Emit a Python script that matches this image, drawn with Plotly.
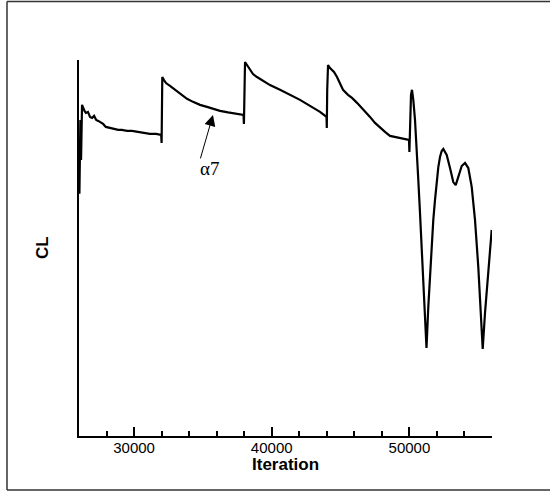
import plotly.graph_objects as go

# Iteration values and CL values
iteration = [
    26000, 26030, 26100, 26150, 26220, 26300, 26400, 26500, 26650, 26800,
    26950, 27100, 27250, 27400, 27550, 27750, 27950, 28250, 28550, 28850,
    29100, 29500, 29850, 30200, 30650, 31150, 31600, 31970, 32000, 32020,
    32050, 32174, 32320, 32610, 32973, 33337, 33845, 34281, 34789, 35298,
    35734, 36242, 36823, 37404, 37950, 37980, 38010, 38060, 38204, 38421,
    38639, 38930, 39366, 39874, 40601, 41327, 42053, 42780, 43506, 43978,
    44000, 44030, 44090, 44233, 44523, 44741, 44959, 45177, 45540, 45831,
    46194, 46557, 46848, 47138, 47502, 47865, 48228, 48591, 48954, 49317,
    49826, 49971, 50000, 50044, 50116, 50189, 50283, 50407, 50530, 50647,
    50770, 50894, 51010, 51133, 51242, 51373, 51497, 51620, 51736, 51860,
    51983, 52100, 52223, 52347, 52463, 52710, 52950, 53189, 53364, 53553,
    53800, 54040, 54279, 54526, 54765, 55005, 55179, 55325, 55492, 55731,
    55978,
]
cl = [
    1.141, 0.966, 1.261, 1.101, 1.321, 1.309, 1.297, 1.289, 1.293, 1.273,
    1.269, 1.277, 1.261, 1.257, 1.253, 1.245, 1.233, 1.229, 1.225, 1.221,
    1.221, 1.217, 1.217, 1.213, 1.209, 1.205, 1.205, 1.201, 1.169, 1.341,
    1.432, 1.420, 1.408, 1.397, 1.381, 1.365, 1.345, 1.333, 1.321, 1.313,
    1.305, 1.297, 1.291, 1.285, 1.281, 1.245, 1.381, 1.492, 1.480, 1.460,
    1.444, 1.432, 1.416, 1.400, 1.381, 1.361, 1.341, 1.317, 1.293, 1.273,
    1.229, 1.381, 1.480, 1.468, 1.452, 1.432, 1.404, 1.381, 1.361, 1.349,
    1.329, 1.309, 1.293, 1.273, 1.249, 1.229, 1.213, 1.197, 1.193, 1.189,
    1.185, 1.181, 1.133, 1.221, 1.361, 1.381, 1.341, 1.261, 1.153, 1.021,
    0.890, 0.730, 0.583, 0.435, 0.351, 0.515, 0.650, 0.770, 0.862, 0.942,
    1.021, 1.073, 1.113, 1.137, 1.145, 1.121, 1.069, 1.013, 1.001, 1.033,
    1.077, 1.089, 1.069, 0.994, 0.862, 0.674, 0.491, 0.347, 0.491, 0.674,
    0.822,
]

x_range = [26000, 56000]
y_range = [0, 1.5]
x_ticks = [30000, 40000, 50000]
x_title = "Iteration"
y_title = "CL"
label_text = "α7"
label_pos = (35443, 1.069)
arrow_head = (35734, 1.281)

fig = go.Figure()
fig.add_trace(go.Scatter(
    x=iteration, y=cl, mode="lines",
    line=dict(color="black", width=2.2),
    hoverinfo="skip", showlegend=False,
))

fig.update_layout(
    width=550, height=491,
    margin=dict(l=79, r=58, t=60, b=55),
    paper_bgcolor="white", plot_bgcolor="white",
    font=dict(family="Liberation Sans, Arial, sans-serif", color="black"),
    showlegend=False,
)
fig.update_xaxes(
    range=x_range, tickvals=x_ticks, ticktext=[str(v) for v in x_ticks],
    showline=True, linecolor="black", linewidth=2,
    ticks="inside", ticklen=9, tickwidth=2, tickcolor="black",
    minor=dict(ticks="inside", ticklen=5, tickwidth=1.5, tickcolor="black", dtick=2000, tick0=0),
    showgrid=False, zeroline=False,
    tickfont=dict(size=15, family="Liberation Sans, Arial, sans-serif"),
    ticklabelstandoff=-3,
)
fig.update_yaxes(
    range=y_range, showline=True, linecolor="black", linewidth=2,
    showticklabels=False, ticks="", showgrid=False, zeroline=False,
)

# axis titles
fig.add_annotation(
    x=0.5, y=(436 - 464) / 376, xref="paper", yref="paper",
    text="<b>" + x_title + "</b>", showarrow=False,
    font=dict(size=17, family="Liberation Sans, Arial, sans-serif"),
    xanchor="center", yanchor="middle",
)
fig.add_annotation(
    x=(42 - 79) / 413, y=0.5, xref="paper", yref="paper",
    text="<b>" + y_title + "</b>", showarrow=False, textangle=-90,
    font=dict(size=17, family="Liberation Sans, Arial, sans-serif"),
    xanchor="center", yanchor="middle",
)

# label with arrow
fig.add_annotation(
    x=arrow_head[0], y=arrow_head[1], xref="x", yref="y",
    text="", showarrow=True, arrowhead=2, arrowsize=2.2, arrowwidth=1,
    arrowcolor="black", ax=-13, ay=45, standoff=0, startstandoff=0,
)
fig.add_annotation(
    x=label_pos[0], y=label_pos[1], xref="x", yref="y",
    text=label_text, showarrow=False,
    font=dict(size=19, family="Liberation Serif, Times New Roman, serif"),
    xanchor="center", yanchor="middle",
)

# outer frame: left, top and bottom edges (the right edge lies outside the picture)
fx0, fx1 = (7 - 79) / 413, 1.3
fy0, fy1 = (436 - 490) / 376, (436 - 1.5) / 376
frame_style = dict(color="#333333", width=1.5)
for (xa, ya, xb, yb) in [(fx0, fy0, fx0, fy1), (fx0, fy1, fx1, fy1), (fx0, fy0, fx1, fy0)]:
    fig.add_shape(type="line", xref="paper", yref="paper",
                  x0=xa, y0=ya, x1=xb, y1=yb, line=frame_style, layer="below")

fig.write_html("out.html", config={"displayModeBar": False},
               post_script="document.body.style.margin='0';")
